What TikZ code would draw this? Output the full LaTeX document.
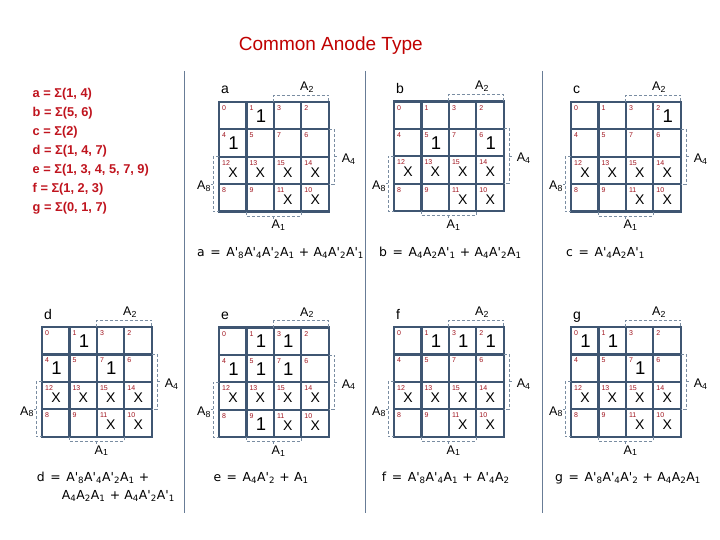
\documentclass[tikz,border=0pt]{standalone}
\usepackage{fontspec}
\setmainfont{Liberation Sans}
\newfontfamily\eqfont{DejaVu Sans}
\definecolor{titlered}{HTML}{C00000}
\definecolor{listred}{HTML}{C0141E}
\definecolor{numred}{HTML}{A0141E}
\definecolor{gridc}{HTML}{3F5672}
\definecolor{divc}{HTML}{687C96}
\definecolor{brk}{HTML}{7A8DA2}
\newcommand\kcs{27.4}
\newcommand\Ap[1]{A\textquotesingle\textsubscript{#1}}
\newcommand\An[1]{A\textsubscript{#1}}
\newcommand\EQ{\hspace{0.45em}=\hspace{0.45em}}
\newcommand\PL{\hspace{0.35em}+\hspace{0.35em}}
\tikzset{
  gridline/.style={draw=gridc, line width=2.2pt},
  cellnum/.style={font=\fontsize{7}{7}\selectfont, text=numred, inner sep=0pt, anchor=north west},
  one/.style={font=\fontsize{18.5}{18.5}\selectfont, inner sep=0pt},
  xmark/.style={font=\fontsize{14}{14}\selectfont, inner sep=0pt},
  bracket/.style={draw=brk, line width=0.8pt, dash pattern=on 3pt off 2pt},
  bticks/.style={draw=brk, line width=0.8pt},
  alabel/.style={font=\fontsize{12.5}{12.5}\selectfont, inner sep=0pt, anchor=base west},
  maplabel/.style={font=\fontsize{14}{14}\selectfont, inner sep=0pt, anchor=base west},
  eq/.style={font=\eqfont\fontsize{12.4}{14}\selectfont, inner sep=0pt, anchor=base west},
  listtext/.style={font=\fontsize{12.8}{14}\selectfont\bfseries, text=listred, inner sep=0pt, anchor=base west},
  titletext/.style={font=\fontsize{19}{20}\selectfont, text=titlered, inner sep=0pt, anchor=base},
  divider/.style={draw=divc, line width=1pt},
}
\newcommand\kmap[4]{%
\begin{scope}[shift={(#1,#2)}]
  \node[maplabel] (#3-name) at (2,-8) {#3};
  \draw[gridline] (0,0) rectangle (4*\kcs,4*\kcs);
  \foreach \ii in {1,2,3}{
    \draw[gridline] (\ii*\kcs,0) -- (\ii*\kcs,4*\kcs);
    \draw[gridline] (0,\ii*\kcs) -- (4*\kcs,\ii*\kcs);
  }
  \foreach \n [count=\k from 0] in {0,1,3,2,4,5,7,6,12,13,15,14,8,9,11,10}{
    \pgfmathtruncatemacro\cc{mod(\k,4)}
    \pgfmathtruncatemacro\rr{(\k-\cc)/4}
    \node[cellnum] (#3-n\n) at (\cc*\kcs+3,\rr*\kcs+3.5) {\n};
  }
  \foreach \cc/\rr in {#4}{\node[one] (#3-v\cc\rr) at (\cc*\kcs+14.5,\rr*\kcs+14) {1};}
  \foreach \cc/\rr in {0/2,1/2,2/2,3/2,2/3,3/3}{\node[xmark] (#3-x\cc\rr) at (\cc*\kcs+14,\rr*\kcs+15.5) {X};}
  % A2 bracket (top)
  \draw[bracket] (2*\kcs,0) -- (2*\kcs,-7) -- (4*\kcs,-7) -- (4*\kcs,0);
  \node[alabel] (#3-A2) at (81,-11.5) {\An2};
  % A4 bracket (right)
  \draw[bracket] (4*\kcs,\kcs) -- (4*\kcs+5.5,\kcs) -- (4*\kcs+5.5,3*\kcs) -- (4*\kcs,3*\kcs);
  \draw[bticks] (4*\kcs+5.5,2*\kcs) -- ++(2.5,0);
  \node[alabel] (#3-A4) at (4*\kcs+13,60.5) {\An4};
  % A8 bracket (left)
  \draw[bracket] (0,2*\kcs) -- (-6,2*\kcs) -- (-6,4*\kcs) -- (0,4*\kcs);
  \draw[bticks] (-6,3*\kcs) -- ++(-2.5,0);
  \node[alabel] (#3-A8) at (-22,88) {\An8};
  % A1 bracket (bottom)
  \draw[bracket] (\kcs,4*\kcs) -- (\kcs,4*\kcs+4.5) -- (3*\kcs,4*\kcs+4.5) -- (3*\kcs,4*\kcs);
  \draw[bticks] (2*\kcs,4*\kcs+4.5) -- ++(0,2.5);
  \node[alabel] (#3-A1) at (52.5,127) {\An1};
\end{scope}}
\begin{document}
\begin{tikzpicture}[x=1pt,y=-1pt]
  \fill[white] (0,0) rectangle (720,540);
  \useasboundingbox (0,0) rectangle (720,540);

  \node[titletext] (title) at (330.8,50.7) {Common Anode Type};

  \node[listtext] (la) at (32.5,97.3) {a = Σ(1, 4)};
  \node[listtext] (lb) at (32.5,116.4) {b = Σ(5, 6)};
  \node[listtext] (lc) at (32.5,135.4) {c = Σ(2)};
  \node[listtext] (ld) at (32.5,154.5) {d = Σ(1, 4, 7)};
  \node[listtext] (le) at (32.5,173.6) {e = Σ(1, 3, 4, 5, 7, 9)};
  \node[listtext] (lf) at (32.5,192.6) {f = Σ(1, 2, 3)};
  \node[listtext] (lg) at (32.5,211.7) {g = Σ(0, 1, 7)};

  \draw[divider] (184,71) -- (184,513);
  \draw[divider] (365,71) -- (365,513);
  \draw[divider] (542,71) -- (542,513);

  \kmap{219}{102}{a}{1/0,0/1}
  \kmap{394}{101.5}{b}{1/1,3/1}
  \kmap{571}{102}{c}{3/0}
  \kmap{42}{327}{d}{1/0,0/1,2/1}
  \kmap{219}{327.5}{e}{1/0,2/0,0/1,1/1,2/1,1/3}
  \kmap{394}{327}{f}{1/0,2/0,3/0}
  \kmap{571}{327}{g}{0/0,1/0,2/1}

  \node[eq] (eqa) at (197,256.4) {a\EQ\Ap8\Ap4\Ap2\An1\PL\An4\Ap2\Ap1};
  \node[eq] (eqb) at (379,256.4) {b\EQ\An4\An2\Ap1\PL\An4\Ap2\An1};
  \node[eq] (eqc) at (566,256.4) {c\EQ\Ap4\An2\Ap1};
  \node[eq] (eqd1) at (36.7,481.5) {d\EQ\Ap8\Ap4\Ap2\An1\PL};
  \node[eq] (eqd2) at (61.7,499) {\An4\An2\An1\PL\An4\Ap2\Ap1};
  \node[eq] (eqe) at (213.3,481.5) {e\EQ\An4\Ap2\PL\An1};
  \node[eq] (eqf) at (381.7,481.5) {f\EQ\Ap8\Ap4\An1\PL\Ap4\An2};
  \node[eq] (eqg) at (555,481.5) {g\EQ\Ap8\Ap4\Ap2\PL\An4\An2\An1};
\end{tikzpicture}
\end{document}
